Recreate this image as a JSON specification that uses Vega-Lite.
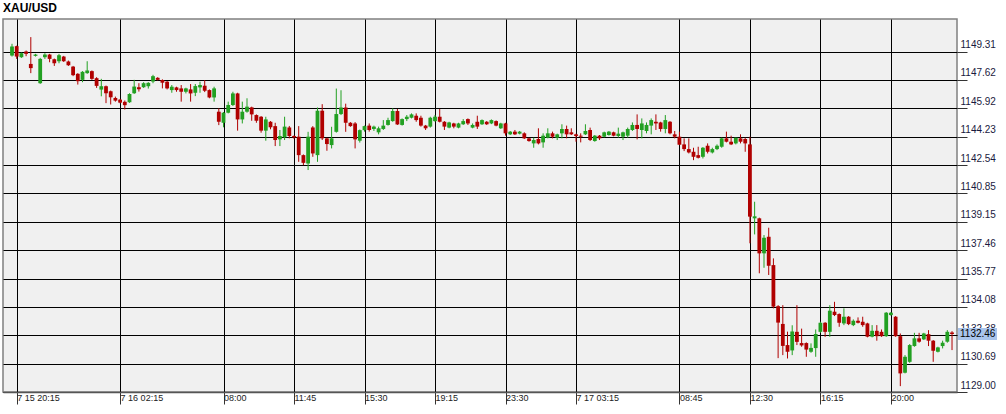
{
  "$schema": "https://vega.github.io/schema/vega-lite/v6.json",
  "width": 954,
  "height": 373,
  "autosize": {"type": "none"},
  "padding": {"left": 3, "top": 19, "right": 49, "bottom": 22},
  "background": "white",
  "title": {"text": "XAU/USD", "anchor": "start", "fontSize": 12, "fontWeight": "bold", "font": "Liberation Sans", "color": "#000000", "offset": 4},
  "config": {
    "view": {"fill": "#f0f0f0", "stroke": "#808080", "strokeWidth": 1.5}
  },
  "datasets": {
    "bars": [
      {"i":0,"o":1149.07,"h":1149.77,"l":1149.01,"c":1149.61},
      {"i":1,"o":1149.63,"h":1149.66,"l":1148.87,"c":1149.01},
      {"i":2,"o":1148.97,"h":1149.25,"l":1148.93,"c":1149.21},
      {"i":3,"o":1149.31,"h":1149.37,"l":1149.03,"c":1149.17},
      {"i":4,"o":1148.57,"h":1150.17,"l":1148.02,"c":1148.32},
      {"i":5,"o":1149.05,"h":1149.17,"l":1149.01,"c":1149.13},
      {"i":6,"o":1147.42,"h":1148.93,"l":1147.38,"c":1148.87},
      {"i":7,"o":1148.97,"h":1149.21,"l":1148.87,"c":1149.13},
      {"i":8,"o":1149.13,"h":1149.17,"l":1148.67,"c":1148.87},
      {"i":9,"o":1148.85,"h":1148.89,"l":1148.45,"c":1148.61},
      {"i":10,"o":1148.73,"h":1149.17,"l":1148.61,"c":1149.09},
      {"i":11,"o":1149.01,"h":1149.05,"l":1148.69,"c":1148.73},
      {"i":12,"o":1148.71,"h":1148.77,"l":1148.45,"c":1148.49},
      {"i":13,"o":1148.41,"h":1148.45,"l":1147.84,"c":1147.90},
      {"i":14,"o":1147.98,"h":1148.02,"l":1147.34,"c":1147.54},
      {"i":15,"o":1147.62,"h":1148.14,"l":1147.48,"c":1148.10},
      {"i":16,"o":1148.02,"h":1148.73,"l":1147.98,"c":1148.18},
      {"i":17,"o":1148.14,"h":1148.18,"l":1147.62,"c":1147.68},
      {"i":18,"o":1147.72,"h":1147.78,"l":1147.14,"c":1147.26},
      {"i":19,"o":1147.04,"h":1147.68,"l":1146.64,"c":1147.24},
      {"i":20,"o":1147.24,"h":1147.28,"l":1146.23,"c":1146.82},
      {"i":21,"o":1146.94,"h":1146.98,"l":1146.15,"c":1146.58},
      {"i":22,"o":1146.54,"h":1146.62,"l":1146.32,"c":1146.38},
      {"i":23,"o":1146.44,"h":1146.48,"l":1146.22,"c":1146.26},
      {"i":24,"o":1146.31,"h":1146.39,"l":1145.85,"c":1146.11},
      {"i":25,"o":1146.29,"h":1146.82,"l":1146.25,"c":1146.78},
      {"i":26,"o":1146.82,"h":1147.62,"l":1146.78,"c":1147.22},
      {"i":27,"o":1147.18,"h":1147.42,"l":1146.92,"c":1147.06},
      {"i":28,"o":1147.18,"h":1147.48,"l":1147.14,"c":1147.42},
      {"i":29,"o":1147.24,"h":1147.48,"l":1147.10,"c":1147.44},
      {"i":30,"o":1147.52,"h":1147.92,"l":1147.42,"c":1147.84},
      {"i":31,"o":1147.74,"h":1147.78,"l":1147.58,"c":1147.62},
      {"i":32,"o":1147.61,"h":1147.65,"l":1147.11,"c":1147.45},
      {"i":33,"o":1147.51,"h":1147.55,"l":1147.05,"c":1147.11},
      {"i":34,"o":1147.01,"h":1147.31,"l":1146.85,"c":1147.21},
      {"i":35,"o":1147.17,"h":1147.21,"l":1146.91,"c":1147.01},
      {"i":36,"o":1147.11,"h":1147.31,"l":1146.32,"c":1146.91},
      {"i":37,"o":1146.91,"h":1147.15,"l":1146.81,"c":1147.11},
      {"i":38,"o":1147.05,"h":1147.37,"l":1146.32,"c":1146.81},
      {"i":39,"o":1146.85,"h":1147.37,"l":1146.65,"c":1147.25},
      {"i":40,"o":1147.17,"h":1147.51,"l":1146.85,"c":1147.31},
      {"i":41,"o":1147.27,"h":1147.61,"l":1146.89,"c":1146.97},
      {"i":42,"o":1147.01,"h":1147.05,"l":1146.52,"c":1146.57},
      {"i":43,"o":1146.57,"h":1147.21,"l":1146.32,"c":1147.11},
      {"i":44,"o":1145.72,"h":1145.92,"l":1144.92,"c":1145.12},
      {"i":45,"o":1145.06,"h":1145.70,"l":1144.79,"c":1145.66},
      {"i":46,"o":1145.66,"h":1146.32,"l":1145.62,"c":1146.12},
      {"i":47,"o":1146.12,"h":1146.91,"l":1146.06,"c":1146.81},
      {"i":48,"o":1146.81,"h":1146.85,"l":1144.59,"c":1145.26},
      {"i":49,"o":1145.26,"h":1146.32,"l":1145.02,"c":1145.72},
      {"i":50,"o":1145.72,"h":1146.52,"l":1145.66,"c":1146.02},
      {"i":51,"o":1145.98,"h":1146.02,"l":1145.18,"c":1145.56},
      {"i":52,"o":1145.52,"h":1145.56,"l":1145.06,"c":1145.18},
      {"i":53,"o":1145.42,"h":1145.46,"l":1144.47,"c":1144.59},
      {"i":54,"o":1144.59,"h":1145.42,"l":1143.99,"c":1145.26},
      {"i":55,"o":1145.12,"h":1145.16,"l":1144.67,"c":1144.79},
      {"i":56,"o":1144.86,"h":1145.06,"l":1143.67,"c":1144.03},
      {"i":57,"o":1144.07,"h":1144.63,"l":1143.67,"c":1144.27},
      {"i":58,"o":1144.19,"h":1145.42,"l":1144.03,"c":1144.83},
      {"i":59,"o":1144.78,"h":1144.87,"l":1144.13,"c":1144.27},
      {"i":60,"o":1144.27,"h":1144.31,"l":1144.10,"c":1144.19},
      {"i":61,"o":1144.23,"h":1144.86,"l":1142.73,"c":1143.13},
      {"i":62,"o":1143.13,"h":1143.17,"l":1142.53,"c":1142.67},
      {"i":63,"o":1142.63,"h":1144.52,"l":1142.24,"c":1144.23},
      {"i":64,"o":1144.78,"h":1144.86,"l":1143.03,"c":1143.23},
      {"i":65,"o":1143.13,"h":1145.97,"l":1142.73,"c":1145.78},
      {"i":66,"o":1145.78,"h":1146.17,"l":1144.03,"c":1144.13},
      {"i":67,"o":1144.13,"h":1144.17,"l":1143.39,"c":1143.79},
      {"i":68,"o":1143.73,"h":1144.82,"l":1143.53,"c":1144.13},
      {"i":69,"o":1144.52,"h":1147.10,"l":1144.47,"c":1145.58},
      {"i":70,"o":1145.58,"h":1147.00,"l":1145.52,"c":1145.97},
      {"i":71,"o":1145.97,"h":1146.20,"l":1144.52,"c":1145.06},
      {"i":72,"o":1145.06,"h":1145.10,"l":1144.82,"c":1144.86},
      {"i":73,"o":1145.02,"h":1145.10,"l":1143.53,"c":1144.07},
      {"i":74,"o":1143.99,"h":1144.66,"l":1143.88,"c":1144.62},
      {"i":75,"o":1144.62,"h":1144.89,"l":1144.53,"c":1144.86},
      {"i":76,"o":1144.89,"h":1145.02,"l":1144.53,"c":1144.63},
      {"i":77,"o":1144.69,"h":1144.89,"l":1144.57,"c":1144.83},
      {"i":78,"o":1144.49,"h":1144.83,"l":1144.37,"c":1144.73},
      {"i":79,"o":1144.69,"h":1145.22,"l":1144.63,"c":1144.89},
      {"i":80,"o":1144.93,"h":1145.36,"l":1144.89,"c":1145.22},
      {"i":81,"o":1145.16,"h":1145.92,"l":1145.12,"c":1145.76},
      {"i":82,"o":1145.76,"h":1145.88,"l":1144.93,"c":1144.96},
      {"i":83,"o":1144.93,"h":1145.32,"l":1144.89,"c":1145.28},
      {"i":84,"o":1145.28,"h":1145.52,"l":1145.16,"c":1145.42},
      {"i":85,"o":1145.36,"h":1145.62,"l":1145.32,"c":1145.56},
      {"i":86,"o":1145.48,"h":1145.62,"l":1145.12,"c":1145.22},
      {"i":87,"o":1145.36,"h":1145.48,"l":1144.83,"c":1144.89},
      {"i":88,"o":1144.89,"h":1144.93,"l":1144.63,"c":1144.73},
      {"i":89,"o":1144.83,"h":1145.42,"l":1144.77,"c":1145.36},
      {"i":90,"o":1145.16,"h":1145.52,"l":1145.12,"c":1145.42},
      {"i":91,"o":1145.42,"h":1145.88,"l":1145.08,"c":1145.12},
      {"i":92,"o":1145.12,"h":1145.16,"l":1144.63,"c":1144.83},
      {"i":93,"o":1144.77,"h":1145.12,"l":1144.73,"c":1145.08},
      {"i":94,"o":1145.02,"h":1145.06,"l":1144.73,"c":1144.83},
      {"i":95,"o":1144.77,"h":1145.06,"l":1144.73,"c":1145.02},
      {"i":96,"o":1144.97,"h":1145.28,"l":1144.93,"c":1145.16},
      {"i":97,"o":1145.28,"h":1145.32,"l":1144.93,"c":1145.02},
      {"i":98,"o":1144.77,"h":1145.02,"l":1144.73,"c":1144.93},
      {"i":99,"o":1145.12,"h":1145.48,"l":1144.69,"c":1144.83},
      {"i":100,"o":1144.97,"h":1145.26,"l":1144.93,"c":1145.22},
      {"i":101,"o":1145.12,"h":1145.16,"l":1144.93,"c":1144.97},
      {"i":102,"o":1145.02,"h":1145.26,"l":1144.98,"c":1145.22},
      {"i":103,"o":1145.16,"h":1145.20,"l":1144.85,"c":1144.89},
      {"i":104,"o":1144.73,"h":1145.06,"l":1144.69,"c":1145.02},
      {"i":105,"o":1145.02,"h":1145.06,"l":1144.29,"c":1144.43},
      {"i":106,"o":1144.37,"h":1144.57,"l":1144.33,"c":1144.53},
      {"i":107,"o":1144.53,"h":1144.63,"l":1144.33,"c":1144.37},
      {"i":108,"o":1144.41,"h":1144.57,"l":1144.37,"c":1144.53},
      {"i":109,"o":1144.43,"h":1144.49,"l":1144.09,"c":1144.13},
      {"i":110,"o":1144.13,"h":1144.17,"l":1143.93,"c":1143.97},
      {"i":111,"o":1143.83,"h":1144.17,"l":1143.57,"c":1144.03},
      {"i":112,"o":1144.09,"h":1144.73,"l":1143.77,"c":1143.83},
      {"i":113,"o":1143.89,"h":1144.43,"l":1143.57,"c":1144.29},
      {"i":114,"o":1144.17,"h":1144.73,"l":1144.13,"c":1144.43},
      {"i":115,"o":1144.43,"h":1144.53,"l":1144.13,"c":1144.23},
      {"i":116,"o":1144.17,"h":1144.41,"l":1144.03,"c":1144.37},
      {"i":117,"o":1144.43,"h":1144.97,"l":1144.13,"c":1144.69},
      {"i":118,"o":1144.69,"h":1144.89,"l":1144.13,"c":1144.37},
      {"i":119,"o":1144.49,"h":1144.73,"l":1144.33,"c":1144.37},
      {"i":120,"o":1144.37,"h":1144.41,"l":1143.93,"c":1144.27},
      {"i":121,"o":1144.29,"h":1144.43,"l":1143.89,"c":1144.23},
      {"i":122,"o":1144.37,"h":1144.97,"l":1144.33,"c":1144.57},
      {"i":123,"o":1144.63,"h":1144.77,"l":1143.97,"c":1144.03},
      {"i":124,"o":1143.97,"h":1144.33,"l":1143.93,"c":1144.29},
      {"i":125,"o":1144.29,"h":1144.33,"l":1144.03,"c":1144.13},
      {"i":126,"o":1144.23,"h":1144.53,"l":1144.19,"c":1144.49},
      {"i":127,"o":1144.33,"h":1144.57,"l":1144.29,"c":1144.53},
      {"i":128,"o":1144.49,"h":1144.53,"l":1144.25,"c":1144.29},
      {"i":129,"o":1144.27,"h":1144.77,"l":1144.17,"c":1144.41},
      {"i":130,"o":1144.23,"h":1144.53,"l":1144.03,"c":1144.49},
      {"i":131,"o":1144.29,"h":1144.77,"l":1144.17,"c":1144.69},
      {"i":132,"o":1144.63,"h":1145.08,"l":1144.57,"c":1144.93},
      {"i":133,"o":1144.93,"h":1145.56,"l":1144.07,"c":1144.69},
      {"i":134,"o":1144.63,"h":1145.32,"l":1144.13,"c":1145.02},
      {"i":135,"o":1144.57,"h":1145.08,"l":1144.43,"c":1144.93},
      {"i":136,"o":1144.89,"h":1145.32,"l":1144.37,"c":1145.22},
      {"i":137,"o":1145.12,"h":1145.56,"l":1144.63,"c":1145.02},
      {"i":138,"o":1145.08,"h":1145.12,"l":1144.53,"c":1144.69},
      {"i":139,"o":1144.69,"h":1145.52,"l":1144.43,"c":1145.22},
      {"i":140,"o":1145.12,"h":1145.16,"l":1144.37,"c":1144.43},
      {"i":141,"o":1144.37,"h":1144.57,"l":1144.13,"c":1144.23},
      {"i":142,"o":1144.23,"h":1144.53,"l":1143.73,"c":1143.75},
      {"i":143,"o":1143.77,"h":1144.13,"l":1143.37,"c":1143.49},
      {"i":144,"o":1143.49,"h":1144.13,"l":1143.23,"c":1143.29},
      {"i":145,"o":1143.33,"h":1143.57,"l":1142.83,"c":1143.03},
      {"i":146,"o":1143.13,"h":1143.63,"l":1142.93,"c":1142.97},
      {"i":147,"o":1143.03,"h":1143.61,"l":1142.93,"c":1143.57},
      {"i":148,"o":1143.69,"h":1143.83,"l":1143.23,"c":1143.33},
      {"i":149,"o":1143.29,"h":1143.57,"l":1143.23,"c":1143.49},
      {"i":150,"o":1143.49,"h":1143.77,"l":1143.43,"c":1143.69},
      {"i":151,"o":1143.63,"h":1144.17,"l":1143.57,"c":1144.13},
      {"i":152,"o":1144.13,"h":1144.53,"l":1143.89,"c":1143.93},
      {"i":153,"o":1143.93,"h":1144.29,"l":1143.73,"c":1143.77},
      {"i":154,"o":1143.83,"h":1144.17,"l":1143.77,"c":1144.17},
      {"i":155,"o":1144.13,"h":1144.37,"l":1143.83,"c":1143.93},
      {"i":156,"o":1144.09,"h":1144.17,"l":1143.33,"c":1143.83},
      {"i":157,"o":1143.77,"h":1144.23,"l":1137.87,"c":1139.46},
      {"i":158,"o":1139.36,"h":1140.35,"l":1138.40,"c":1139.48},
      {"i":159,"o":1139.36,"h":1139.40,"l":1136.08,"c":1137.27},
      {"i":160,"o":1137.27,"h":1138.36,"l":1136.41,"c":1138.20},
      {"i":161,"o":1138.26,"h":1138.80,"l":1135.98,"c":1136.53},
      {"i":162,"o":1136.57,"h":1136.97,"l":1133.99,"c":1134.09},
      {"i":163,"o":1134.12,"h":1134.18,"l":1131.02,"c":1133.14},
      {"i":164,"o":1133.06,"h":1134.18,"l":1131.20,"c":1131.75},
      {"i":165,"o":1131.80,"h":1132.60,"l":1131.00,"c":1131.40},
      {"i":166,"o":1131.48,"h":1132.98,"l":1131.20,"c":1132.61},
      {"i":167,"o":1132.59,"h":1134.18,"l":1131.80,"c":1131.99},
      {"i":168,"o":1131.92,"h":1132.78,"l":1131.70,"c":1131.78},
      {"i":169,"o":1131.92,"h":1131.96,"l":1131.10,"c":1131.53},
      {"i":170,"o":1131.40,"h":1131.90,"l":1131.34,"c":1131.63},
      {"i":171,"o":1131.62,"h":1132.73,"l":1131.10,"c":1132.46},
      {"i":172,"o":1132.59,"h":1133.19,"l":1132.53,"c":1133.13},
      {"i":173,"o":1133.13,"h":1133.17,"l":1132.29,"c":1132.59},
      {"i":174,"o":1132.59,"h":1134.18,"l":1132.29,"c":1133.85},
      {"i":175,"o":1133.79,"h":1134.38,"l":1133.53,"c":1133.59},
      {"i":176,"o":1133.65,"h":1133.69,"l":1132.89,"c":1133.13},
      {"i":177,"o":1133.09,"h":1133.99,"l":1132.99,"c":1133.49},
      {"i":178,"o":1133.49,"h":1133.53,"l":1132.99,"c":1133.05},
      {"i":179,"o":1132.99,"h":1133.33,"l":1132.93,"c":1133.25},
      {"i":180,"o":1133.25,"h":1133.45,"l":1133.09,"c":1133.13},
      {"i":181,"o":1133.19,"h":1133.49,"l":1132.89,"c":1132.99},
      {"i":182,"o":1133.09,"h":1133.13,"l":1132.26,"c":1132.30},
      {"i":183,"o":1132.30,"h":1132.99,"l":1132.26,"c":1132.65},
      {"i":184,"o":1132.65,"h":1132.99,"l":1132.06,"c":1132.33},
      {"i":185,"o":1132.59,"h":1132.73,"l":1132.29,"c":1132.33},
      {"i":186,"o":1132.33,"h":1133.77,"l":1132.29,"c":1133.73},
      {"i":187,"o":1133.59,"h":1133.77,"l":1133.55,"c":1133.73},
      {"i":188,"o":1133.49,"h":1133.53,"l":1132.29,"c":1132.33},
      {"i":189,"o":1132.33,"h":1132.49,"l":1129.35,"c":1130.11},
      {"i":190,"o":1130.15,"h":1131.20,"l":1130.11,"c":1131.10},
      {"i":191,"o":1130.80,"h":1131.86,"l":1130.74,"c":1131.80},
      {"i":192,"o":1131.74,"h":1132.53,"l":1131.70,"c":1132.20},
      {"i":193,"o":1132.20,"h":1132.53,"l":1131.94,"c":1132.00},
      {"i":194,"o":1132.14,"h":1132.53,"l":1132.10,"c":1132.49},
      {"i":195,"o":1132.45,"h":1132.69,"l":1131.74,"c":1132.06},
      {"i":196,"o":1132.06,"h":1132.10,"l":1130.80,"c":1131.46},
      {"i":197,"o":1131.40,"h":1131.70,"l":1131.36,"c":1131.66},
      {"i":198,"o":1131.74,"h":1132.06,"l":1131.60,"c":1131.94},
      {"i":199,"o":1132.00,"h":1132.69,"l":1131.94,"c":1132.59},
      {"i":200,"o":1132.55,"h":1132.63,"l":1131.50,"c":1132.46}
    ],
    "last": [{"i": 200, "p": 1132.46, "label": "1132.46"}]
  },
  "data": {"name": "bars"},
  "encoding": {
    "x": {
      "field": "i", "type": "quantitative", "title": null,
      "scale": {"domain": [-1.915, 201.06], "nice": false, "zero": false, "padding": 0},
      "axis": {
        "orient": "bottom",
        "values": [1, 23, 45, 60, 75, 90, 105, 120, 142, 157, 172, 187],
        "tickCount": 30,
        "labelExpr": "{'1':'7 15 20:15','23':'7 16 02:15','45':'08:00','60':'11:45','75':'15:30','90':'19:15','105':'23:30','120':'7 17 03:15','142':'08:45','157':'12:30','172':'16:15','187':'20:00'}[datum.value]",
        "grid": true, "gridColor": "#000000", "gridOpacity": 1, "gridWidth": 1,
        "domain": true, "domainColor": "#555555", "domainWidth": 1.5,
        "ticks": true, "tickColor": "#333333", "tickSize": 12, "tickWidth": 1,
        "labelAlign": "left", "labelBaseline": "middle", "labelPadding": -6.5, "labelDx": 0,
        "labelFont": "Liberation Sans", "labelFontSize": 9, "labelColor": "#222222",
        "labelOverlap": false, "labelFlush": false, "labelBound": false
      }
    }
  },
  "layer": [
    {
      "mark": {"type": "rule", "strokeWidth": 1},
      "encoding": {
        "y": {
          "field": "l", "type": "quantitative", "title": null,
          "scale": {"domain": [1129.0, 1151.25], "nice": false, "zero": false},
          "axis": {
            "orient": "right",
            "values": [1149.31, 1147.62, 1145.92, 1144.23, 1142.54, 1140.85, 1139.15, 1137.46, 1135.77, 1134.08, 1132.38, 1130.69, 1129.00],
            "tickCount": 30,
            "format": ".2f",
            "grid": true, "gridColor": "#000000", "gridOpacity": 1, "gridWidth": 1,
            "domain": false,
            "ticks": true, "tickColor": "#333333", "tickSize": 10, "tickWidth": 1,
            "labelAlign": "left", "labelBaseline": "middle", "labelOffset": -7, "labelPadding": -7,
            "labelFont": "Liberation Sans", "labelFontSize": 10, "labelColor": "#1a1a40",
            "labelOverlap": false, "labelFlush": false, "labelBound": false
          }
        },
        "y2": {"field": "h"},
        "color": {"condition": {"test": "datum.c >= datum.o", "value": "#22a022"}, "value": "#b00000"}
      }
    },
    {
      "mark": {"type": "bar", "size": 3.8},
      "encoding": {
        "y": {"field": "o", "type": "quantitative"},
        "y2": {"field": "c"},
        "color": {"condition": {"test": "datum.c >= datum.o", "value": "#22a022"}, "value": "#b00000"}
      }
    },
    {
      "data": {"name": "last"},
      "mark": {"type": "point", "shape": "M0.3,-0.3H2.25V0.3H0.3Z", "size": 1600, "filled": true, "color": "#a9c4ec", "opacity": 1, "clip": false},
      "encoding": {
        "x": {"field": "i", "type": "quantitative"},
        "y": {"field": "p", "type": "quantitative"}
      }
    },
    {
      "data": {"name": "last"},
      "mark": {"type": "text", "align": "left", "baseline": "middle", "dx": 8, "font": "Liberation Sans", "fontSize": 10, "color": "#000000", "clip": false},
      "encoding": {
        "x": {"field": "i", "type": "quantitative"},
        "y": {"field": "p", "type": "quantitative"},
        "text": {"field": "label"}
      }
    }
  ]
}
